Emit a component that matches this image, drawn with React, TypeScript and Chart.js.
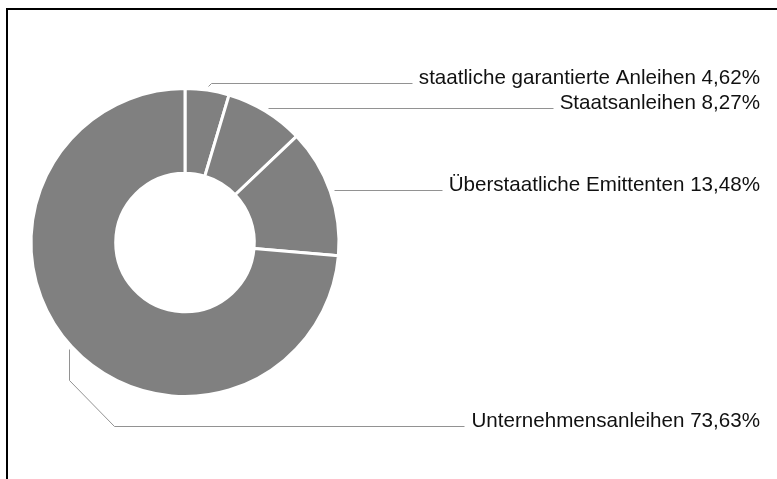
import React, { useEffect, useRef } from "react";
import { Chart, registerables } from "chart.js";

Chart.register(...registerables);

const categories = [
  "staatliche garantierte Anleihen",
  "Staatsanleihen",
  "Überstaatliche Emittenten",
  "Unternehmensanleihen",
];
const shares = [4.62, 8.27, 13.48, 73.63];
const sliceColors = ["#808080", "#808080", "#808080", "#808080"];

// leader line routing (layout only)
const leaderLabelY = [83, null, null, 426];
const leaderDrop = [0, 0, 0, 31];
const TEXT_RIGHT = 760;
const FONT = '20.6px "Liberation Sans", Arial, Helvetica, sans-serif';

const fmt = (v: number) => v.toFixed(2).replace(".", ",") + "%";

const leaderPlugin = {
  id: "leaderLabels",
  afterDraw(chart: any) {
    const ctx = chart.ctx;
    const meta = chart.getDatasetMeta(0);
    ctx.save();
    ctx.font = FONT;
    meta.data.forEach((arc: any, i: number) => {
      const { x, y, startAngle, endAngle, outerRadius } = arc.getProps(
        ["x", "y", "startAngle", "endAngle", "outerRadius"],
        true
      );
      const mid = (startAngle + endAngle) / 2;
      const r = outerRadius + 4;
      const px = x + Math.cos(mid) * r;
      const py = y + Math.sin(mid) * r;
      const ly = leaderLabelY[i] ?? Math.round(py);
      const pts: [number, number][] = [[px, py]];
      let cx = px;
      let cy = py;
      if (leaderDrop[i]) {
        cy += leaderDrop[i];
        pts.push([cx, cy]);
      }
      const dy = ly - cy;
      if (Math.abs(dy) > 0.6) {
        cx += Math.abs(dy);
        cy = ly;
        pts.push([cx, cy]);
      }
      const text = `${categories[i]} ${fmt(shares[i])}`;
      const w = ctx.measureText(text).width;
      pts.push([TEXT_RIGHT - w - 7, ly]);
      ctx.beginPath();
      ctx.strokeStyle = "#929292";
      ctx.lineWidth = 1;
      pts.forEach(([ax, ay], k) => {
        const yy = Math.round(ay) + 0.5;
        const xx = Math.round(ax) + 0.5;
        if (k === 0) ctx.moveTo(xx, yy);
        else ctx.lineTo(xx, yy);
      });
      ctx.stroke();
      ctx.fillStyle = "#111111";
      ctx.textAlign = "right";
      ctx.textBaseline = "alphabetic";
      ctx.fillText(text, TEXT_RIGHT, ly + 1);
    });
    ctx.restore();
  },
};

export default function App() {
  const ref = useRef<HTMLCanvasElement | null>(null);
  useEffect(() => {
    if (!ref.current) return;
    const chart = new Chart(ref.current, {
      type: "doughnut",
      data: {
        labels: categories,
        datasets: [
          {
            data: shares,
            backgroundColor: sliceColors,
            borderColor: "#ffffff",
            borderWidth: 3,
          },
        ],
      },
      options: {
        responsive: false,
        animation: false,
        cutout: "45%",
        layout: { padding: { left: 29.5, right: 436.5, top: 87, bottom: 81 } },
        plugins: {
          legend: { display: false },
          tooltip: { enabled: false },
        },
        events: [],
      },
      plugins: [leaderPlugin],
    });
    return () => chart.destroy();
  }, []);
  return (
    <div style={{ position: "fixed", left: 0, top: 0, width: 777, height: 479, background: "#fff", overflow: "hidden" }}>
      <canvas ref={ref} width={777} height={479} style={{ position: "absolute", left: 0, top: 0 }} />
      <div
        style={{
          position: "absolute",
          left: 6,
          top: 8,
          width: 800,
          height: 500,
          borderTop: "2px solid #000",
          borderLeft: "2px solid #000",
          pointerEvents: "none",
        }}
      />
    </div>
  );
}
